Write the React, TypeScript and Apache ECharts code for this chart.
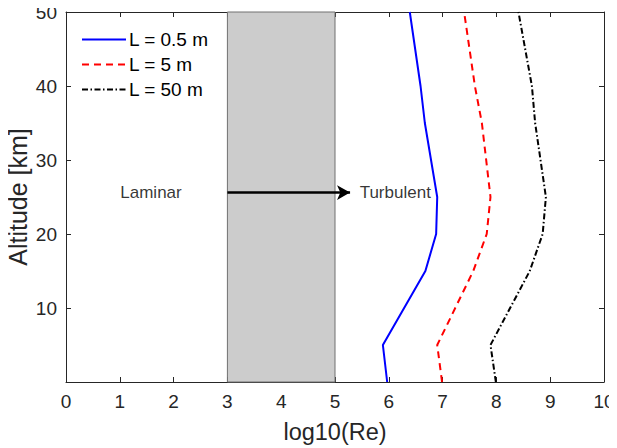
import React, { useEffect, useRef } from "react";
import * as echarts from "echarts";

const altitudes = [0, 5, 15, 20, 25, 35, 40, 50];
const reBlue = [5.97, 5.89, 6.68, 6.88, 6.90, 6.67, 6.59, 6.39];
const reRed = [6.99, 6.90, 7.57, 7.82, 7.89, 7.73, 7.60, 7.40];
const reBlack = [7.99, 7.89, 8.62, 8.86, 8.92, 8.72, 8.66, 8.41];
const seriesNames = ["L = 0.5 m", "L = 5 m", "L = 50 m"];
const transition = [3, 5];
const arrowAlt = 25.6;
const arrowEnd = 5.28;
const regionLabels = ["Laminar", "Turbulent"];
const regionLabelX = [1.58, 6.12];

const font = "Liberation Sans, Arial, sans-serif";
const axisColor = "#262626";

export default function App() {
  const ref = useRef<HTMLDivElement>(null);
  useEffect(() => {
    if (!ref.current) return;
    const chart = echarts.init(ref.current, null, { renderer: "svg" });
    const pair = (xs: number[]) => xs.map((x, i) => [x, altitudes[i]]);
    const axisBase = {
      axisLine: { show: true, onZero: false, lineStyle: { color: axisColor, width: 1 } },
      axisTick: { show: true, inside: true, length: 5, lineStyle: { color: axisColor } },
      splitLine: { show: false },
    };
    chart.setOption({
      animation: false,
      backgroundColor: "#ffffff",
      textStyle: { fontFamily: font },
      grid: { left: 66, right: 13, top: 12, bottom: 66, outerBoundsMode: "none", containLabel: false },
      legend: {
        left: 76,
        top: 25,
        orient: "vertical",
        itemWidth: 44,
        itemHeight: 14,
        itemGap: 6,
        data: seriesNames,
        itemStyle: { opacity: 0 },
        textStyle: { fontSize: 19, fontFamily: font, color: "#000", padding: [0, 0, 0, -2] },
        backgroundColor: "transparent",
      },
      xAxis: [
        {
          type: "value",
          min: 0,
          max: 10,
          interval: 1,
          name: "log10(Re)",
          nameLocation: "middle",
          nameGap: 38,
          nameMoveOverlap: false,
          nameTextStyle: { fontSize: 23.5, color: axisColor, fontFamily: font },
          axisLabel: { fontSize: 19, color: axisColor, margin: 10, fontFamily: font },
          ...axisBase,
        },
        {
          type: "value",
          position: "top",
          min: 0,
          max: 10,
          interval: 1,
          axisLabel: { show: false },
          ...axisBase,
        },
      ],
      yAxis: [
        {
          type: "value",
          min: 0,
          max: 50,
          interval: 10,
          name: "Altitude [km]",
          nameLocation: "middle",
          nameGap: 36,
          nameMoveOverlap: false,
          nameTextStyle: { fontSize: 25, color: axisColor, fontFamily: font },
          axisLabel: { fontSize: 19, color: axisColor, margin: 9, fontFamily: font, showMinLabel: false },
          ...axisBase,
        },
        {
          type: "value",
          position: "right",
          min: 0,
          max: 50,
          interval: 10,
          axisLabel: { show: false },
          ...axisBase,
        },
      ],
      series: [
        {
          name: "region",
          type: "line",
          data: [],
          silent: true,
          markArea: {
            silent: true,
            itemStyle: { color: "#cccccc", borderColor: "#707070", borderWidth: 1 },
            data: [[{ xAxis: transition[0] }, { xAxis: transition[1] }]],
          },
          markLine: {
            silent: true,
            symbol: ["none", "arrow"],
            symbolSize: [11, 13],
            label: { show: false },
            lineStyle: { color: "#000", width: 2.5, type: "solid" },
            data: [[{ coord: [transition[0], arrowAlt] }, { coord: [arrowEnd, arrowAlt] }]],
          },
          z: 1,
        },
        {
          name: "labels",
          type: "scatter",
          symbolSize: 0,
          silent: true,
          data: regionLabels.map((t, i) => ({ value: [regionLabelX[i], arrowAlt], label: { formatter: t } })),
          label: { show: true, position: "inside", fontSize: 17, color: "#000", fontFamily: font },
        },
        {
          name: seriesNames[0],
          type: "line",
          data: pair(reBlue),
          symbol: "none",
          lineStyle: { color: "#0000ff", width: 2 },
          itemStyle: { color: "#0000ff" },
          z: 3,
        },
        {
          name: seriesNames[1],
          type: "line",
          data: pair(reRed),
          symbol: "none",
          lineStyle: { color: "#ff0000", width: 2, type: [7, 5] },
          itemStyle: { color: "#ff0000" },
          z: 3,
        },
        {
          name: seriesNames[2],
          type: "line",
          data: pair(reBlack),
          symbol: "none",
          lineStyle: { color: "#000000", width: 2, type: [6, 2.5, 1.5, 2.5] },
          itemStyle: { color: "#000000" },
          z: 3,
        },
      ],
    });
    return () => chart.dispose();
  }, []);
  return <div ref={ref} style={{ width: 617, height: 448, marginLeft: -8, marginTop: -8 }} />;
}
